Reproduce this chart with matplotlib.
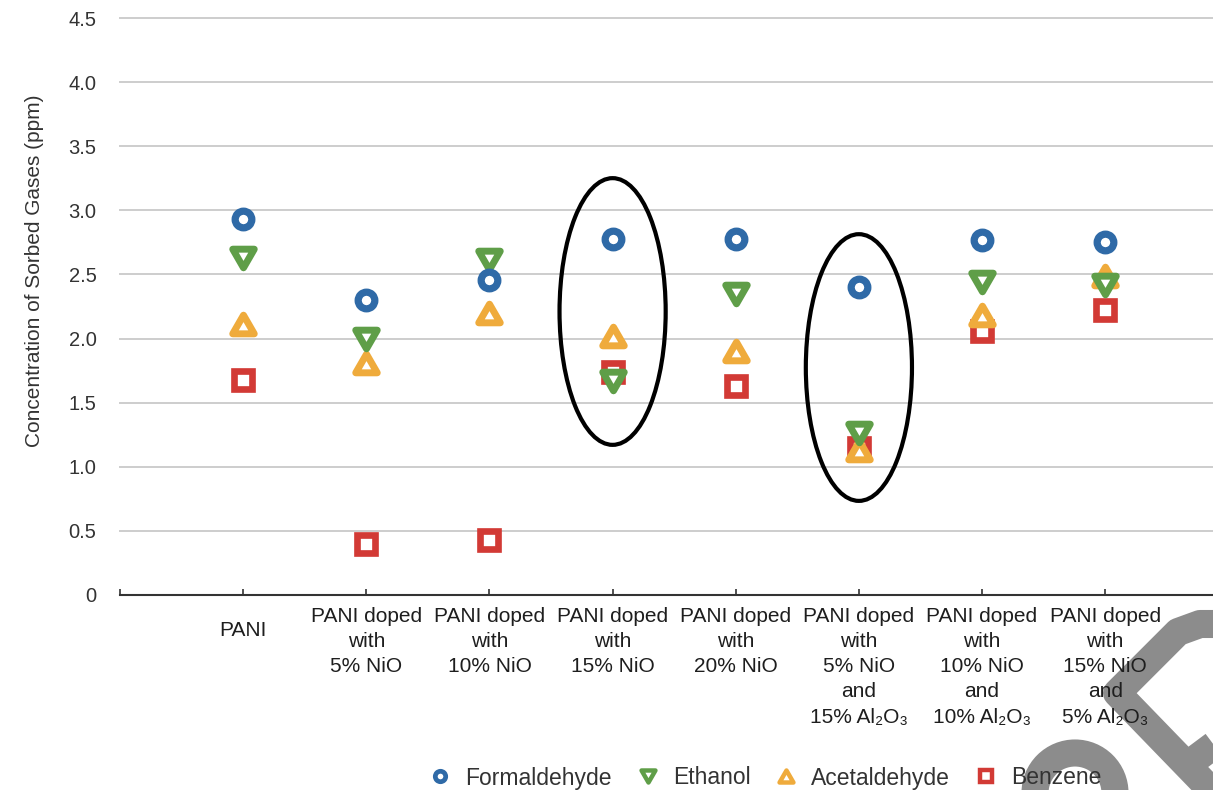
import matplotlib
matplotlib.use("Agg")
import matplotlib.pyplot as plt
import matplotlib.transforms as mtransforms
from matplotlib.path import Path
from matplotlib.markers import MarkerStyle
from matplotlib.patches import Ellipse, Arc
from matplotlib.lines import Line2D

plt.rcParams['font.family'] = ['Liberation Sans', 'DejaVu Sans']

# ---------------- data ----------------
categories = [
    "PANI",
    "PANI doped\nwith\n5% NiO",
    "PANI doped\nwith\n10% NiO",
    "PANI doped\nwith\n15% NiO",
    "PANI doped\nwith\n20% NiO",
    "PANI doped\nwith\n5% NiO\nand\n15% Al\u2082O\u2083",
    "PANI doped\nwith\n10% NiO\nand\n10% Al\u2082O\u2083",
    "PANI doped\nwith\n15% NiO\nand\n5% Al\u2082O\u2083",
]
formaldehyde = [2.93, 2.30, 2.46, 2.78, 2.78, 2.40, 2.77, 2.75]
ethanol      = [2.63, 2.00, 2.61, 1.67, 2.35, 1.26, 2.44, 2.42]
acetaldehyde = [2.11, 1.81, 2.20, 2.02, 1.90, 1.13, 2.18, 2.49]
benzene      = [1.68, 0.40, 0.43, 1.74, 1.63, 1.15, 2.06, 2.22]
series_names = ["Formaldehyde", "Ethanol", "Acetaldehyde", "Benzene"]
y_ticks = [0, 0.5, 1.0, 1.5, 2.0, 2.5, 3.0, 3.5, 4.0, 4.5]
y_ticklabels = ["0", "0.5", "1.0", "1.5", "2.0", "2.5", "3.0", "3.5", "4.0", "4.5"]
highlighted = [3, 5]  # indices of circled categories
# --------------------------------------

W, H = 1213, 790
fig = plt.figure(figsize=(W / 100, H / 100), dpi=100)
fig.patch.set_facecolor('white')

ax_left, ax_right, ax_top, ax_bot = 120, 1213, 18, 595
ax = fig.add_axes([ax_left / W, 1 - ax_bot / H, (ax_right - ax_left) / W, (ax_bot - ax_top) / H])
ax.patch.set_visible(False)

step_px = 123.15
ax.set_xlim(0, (ax_right - ax_left) / step_px)
ax.set_ylim(0, 4.5)

blue, green, orange, red = '#2f6aa7', '#5f9e48', '#efab3c', '#d23a35'

tri_down = Path([(-0.5, 0.433), (0.5, 0.433), (0, -0.433), (-0.5, 0.433)], closed=True)
tri_up = Path([(-0.5, -0.433), (0.5, -0.433), (0, 0.433), (-0.5, -0.433)], closed=True)
m_circle = MarkerStyle('o')
m_down = MarkerStyle(tri_down, joinstyle='miter')
m_up = MarkerStyle(tri_up, joinstyle='miter')
m_square = MarkerStyle('s', joinstyle='miter')

xs = list(range(1, len(categories) + 1))

ax.plot(xs, benzene, ls='none', marker=m_square, ms=12.5, mew=4.8, mec=red, mfc='white', zorder=3, clip_on=False)
ax.plot(xs, acetaldehyde, ls='none', marker=m_up, ms=15.5, mew=5, mec=orange, mfc='white', zorder=4, clip_on=False)
ax.plot(xs, ethanol, ls='none', marker=m_down, ms=15.5, mew=5, mec=green, mfc='white', zorder=5, clip_on=False)
ax.plot(xs, formaldehyde, ls='none', marker=m_circle, ms=12, mew=5.2, mec=blue, mfc='white', zorder=6, clip_on=False)

# highlight ellipses
ell_centers = [2.211, 1.774]
for idx, cy in zip(highlighted, ell_centers):
    ax.add_patch(Ellipse((xs[idx], cy), 0.862, 2.08, fill=False, ec='black', lw=3.0, zorder=7, clip_on=False))

# axes styling
ax.set_yticks(y_ticks)
ax.set_yticklabels(y_ticklabels)
ax.tick_params(axis='y', length=0, pad=17, labelsize=14.5, labelcolor='#333333')
ax.yaxis.grid(True, color='#cdcdcd', lw=1.4)
ax.set_axisbelow(True)
for s in ['left', 'right', 'top']:
    ax.spines[s].set_visible(False)
ax.spines['bottom'].set_color('#333333')
ax.spines['bottom'].set_linewidth(1.5)
ax.set_xticks([0] + xs)
ax.set_xticklabels([])
ax.tick_params(axis='x', direction='in', length=4, width=1.2, color='#333333')
for gl in ax.get_ygridlines():
    gl.set_clip_on(False)

# category labels
for x, lab in zip(xs, categories):
    off = -8.8 if '\n' in lab else -19.0
    ax.annotate(lab, xy=(x, 0), xycoords=('data', 'axes fraction'), xytext=(0, off),
                textcoords='offset points', ha='center', va='top', multialignment='center',
                fontsize=15, color='#1e1e1e', linespacing=1.405, annotation_clip=False)

fig.text(35 / W, 1 - 271 / H, "Concentration of Sorbed Gases (ppm)", rotation=90,
         ha='center', va='center', fontsize=15, color='#333333')

# legend
handles = [
    Line2D([], [], ls='none', marker=m_circle, ms=7.5, mew=3.4, mec=blue, mfc='white'),
    Line2D([], [], ls='none', marker=m_down, ms=10, mew=3.2, mec=green, mfc='white'),
    Line2D([], [], ls='none', marker=m_up, ms=10, mew=3.2, mec=orange, mfc='white'),
    Line2D([], [], ls='none', marker=m_square, ms=8.5, mew=3.2, mec=red, mfc='white'),
]
leg = fig.legend(handles, series_names, loc='center', bbox_to_anchor=(765 / W, 1 - 778 / H),
                 ncol=4, frameon=False, fontsize=16.5, handlelength=1.0, handletextpad=0.6,
                 columnspacing=1.05, borderpad=0, borderaxespad=0)
for t in leg.get_texts():
    t.set_color('#333333')

# watermark fragments (decoration) in figure pixel coordinates
px = mtransforms.Affine2D().scale(1 / W, -1 / H).translate(0, 1) + fig.transFigure
wm = '#8c8c8c'
fig.add_artist(Line2D([1240, 1117, 1178, 1200, 1240], [820, 693, 632, 624, 624], transform=px, color=wm,
                      lw=20.2, solid_joinstyle='round', solid_capstyle='butt', zorder=-1))
fig.add_artist(Line2D([1178, 1245], [772, 722], transform=px, color=wm,
                      lw=20.2, solid_capstyle='butt', zorder=-1))
fig.add_artist(Arc((1075, 793), 80, 80, theta1=180, theta2=360, transform=px,
                   color=wm, lw=19.5, zorder=-1))

fig.savefig('out.png', dpi=100)
